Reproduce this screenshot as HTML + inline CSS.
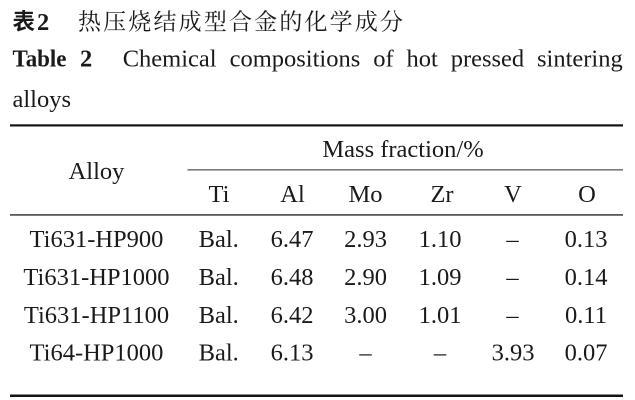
<!DOCTYPE html>
<html>
<head>
<meta charset="utf-8">
<style>
  html, body { margin: 0; padding: 0; background: #ffffff; }
  body { width: 635px; height: 400px; overflow: hidden; }
  svg { display: block; }
  .t { font-family: "Liberation Serif", "Times New Roman", serif; font-size: 24.5px; fill: #1a1a1a; }
  .c { text-anchor: middle; }
</style>
</head>
<body>
<svg width="635" height="400" viewBox="0 0 635 400" xmlns="http://www.w3.org/2000/svg">
  <rect x="0" y="0" width="635" height="400" fill="#ffffff"/>

  <!-- Chinese title -->
  <text x="12.5" y="29.5" font-family="'Noto Sans CJK SC', 'WenQuanYi Zen Hei', sans-serif" font-weight="bold" font-size="22.5" fill="#1a1a1a">表</text>
  <text x="37" y="30" font-family="'Liberation Serif', serif" font-weight="bold" font-size="24.5" fill="#1a1a1a">2</text>
  <text x="78" y="29.5" font-family="'Liberation Serif', 'Noto Serif CJK SC', serif" font-size="23" fill="#1a1a1a" textLength="325" lengthAdjust="spacing">热压烧结成型合金的化学成分</text>

  <!-- English title line -->
  <text x="12.5" y="66.5" class="t" font-weight="bold" textLength="54" lengthAdjust="spacingAndGlyphs">Table</text>
  <text x="80" y="66.5" class="t" font-weight="bold">2</text>
  <text x="122.7" y="66.5" class="t">Chemical</text>
  <text x="229.6" y="66.5" class="t">compositions</text>
  <text x="373.2" y="66.5" class="t">of</text>
  <text x="406.5" y="66.5" class="t">hot</text>
  <text x="450.7" y="66.5" class="t">pressed</text>
  <text x="537" y="66.5" class="t">sintering</text>
  <text x="12.5" y="107" class="t">alloys</text>

  <!-- Rules -->
  <rect x="10" y="124.3" width="613" height="2.2" fill="#141414"/>
  <rect x="187.5" y="169.2" width="435.5" height="1.3" fill="#5a5a5a"/>
  <rect x="10" y="214" width="613" height="1.8" fill="#5a5a5a"/>
  <rect x="10" y="394.5" width="613" height="2.5" fill="#141414"/>

  <!-- Header -->
  <text x="403" y="157" class="t c">Mass fraction/%</text>
  <text x="96.5" y="179" class="t c">Alloy</text>
  <text x="219" y="202" class="t c">Ti</text>
  <text x="292.5" y="202" class="t c">Al</text>
  <text x="365.5" y="202" class="t c">Mo</text>
  <text x="442" y="202" class="t c">Zr</text>
  <text x="513" y="202" class="t c">V</text>
  <text x="587" y="202" class="t c">O</text>

  <!-- Row 1 -->
  <text x="96.5" y="247" class="t c">Ti631-HP900</text>
  <text x="218.7" y="247" class="t c">Bal.</text>
  <text x="292" y="247" class="t c">6.47</text>
  <text x="365.5" y="247" class="t c">2.93</text>
  <text x="440" y="247" class="t c">1.10</text>
  <text x="512.5" y="247" class="t c">–</text>
  <text x="586" y="247" class="t c">0.13</text>

  <!-- Row 2 -->
  <text x="96.5" y="285" class="t c">Ti631-HP1000</text>
  <text x="218.7" y="285" class="t c">Bal.</text>
  <text x="292" y="285" class="t c">6.48</text>
  <text x="365.5" y="285" class="t c">2.90</text>
  <text x="440" y="285" class="t c">1.09</text>
  <text x="512.5" y="285" class="t c">–</text>
  <text x="586" y="285" class="t c">0.14</text>

  <!-- Row 3 -->
  <text x="96.5" y="323" class="t c">Ti631-HP1100</text>
  <text x="218.7" y="323" class="t c">Bal.</text>
  <text x="292" y="323" class="t c">6.42</text>
  <text x="365.5" y="323" class="t c">3.00</text>
  <text x="440" y="323" class="t c">1.01</text>
  <text x="512.5" y="323" class="t c">–</text>
  <text x="586" y="323" class="t c">0.11</text>

  <!-- Row 4 -->
  <text x="96.5" y="360.5" class="t c">Ti64-HP1000</text>
  <text x="218.7" y="360.5" class="t c">Bal.</text>
  <text x="292" y="360.5" class="t c">6.13</text>
  <text x="365.5" y="360.5" class="t c">–</text>
  <text x="440" y="360.5" class="t c">–</text>
  <text x="513" y="360.5" class="t c">3.93</text>
  <text x="586" y="360.5" class="t c">0.07</text>
</svg>
</body>
</html>
